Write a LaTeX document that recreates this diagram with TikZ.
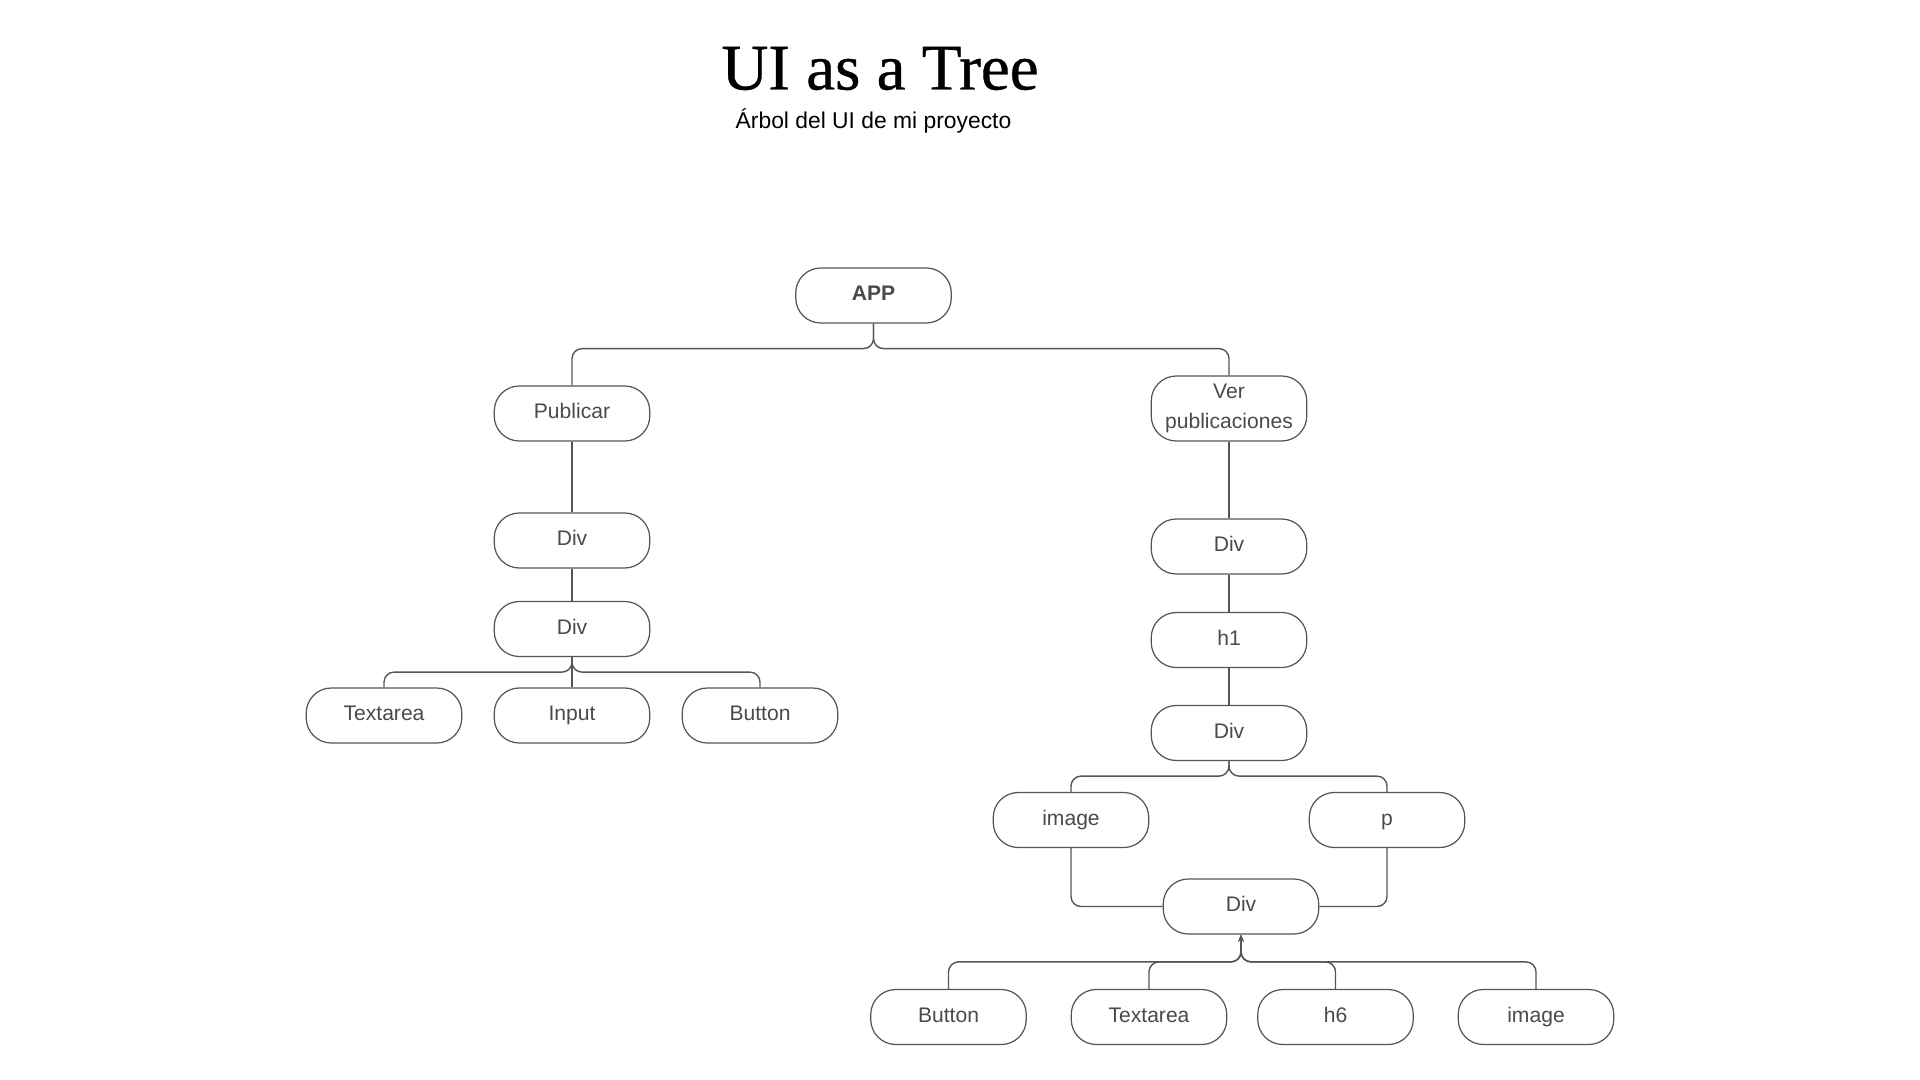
\documentclass[tikz,border=0pt]{standalone}
\usepackage{fontspec}
\setmainfont{Liberation Sans}
\newfontfamily\titlefont[FakeBold=0.6]{Liberation Serif}
\usetikzlibrary{arrows.meta}
\definecolor{ink}{HTML}{4A4A4A}
\definecolor{wire}{HTML}{555555}

\begin{document}
\begin{tikzpicture}[
  box/.style={draw=wire, line width=0.7pt, rounded corners=0.5cm, minimum width=3.11cm, minimum height=1.1cm, align=center, text=ink, text height=8.6pt, text depth=2.5pt, font=\fontsize{12}{17}\selectfont},
  link/.style={draw=wire, line width=0.8pt, rounded corners=0.2cm},
  uplink/.style={link, -{Stealth[length=4pt,width=3pt]}}
]
\useasboundingbox (0,0) rectangle (38.4,-21.6);
\node[anchor=base, font=\titlefont\fontsize{37}{40}\selectfont] (title) at (17.60,-1.79) {UI as a Tree};
\node[anchor=base, font=\fontsize{13}{15}\selectfont] (subtitle) at (17.47,-2.57) {Árbol del UI de mi proyecto};

\node[box, font=\bfseries\fontsize{12}{17}\selectfont] (app) at (17.47,-5.91) {APP};
\node[box] (pub) at (11.44,-8.27) {Publicar};
\node[box, minimum height=1.3cm, text height=25.6pt] (ver) at (24.58,-8.17) {Ver\\publicaciones};
\node[box] (div1) at (11.44,-10.81) {Div};
\node[box] (div2) at (11.44,-12.58) {Div};
\node[box] (ta1) at (7.68,-14.31) {Textarea};
\node[box] (inp) at (11.44,-14.31) {Input};
\node[box] (btn1) at (15.20,-14.31) {Button};
\node[box] (div3) at (24.58,-10.93) {Div};
\node[box] (h1) at (24.58,-12.80) {h1};
\node[box] (div4) at (24.58,-14.66) {Div};
\node[box] (img1) at (21.42,-16.40) {image};
\node[box] (par) at (27.74,-16.40) {p};
\node[box] (div5) at (24.82,-18.13) {Div};
\node[box] (btn2) at (18.97,-20.34) {Button};
\node[box] (ta2) at (22.98,-20.34) {Textarea};
\node[box] (h6) at (26.71,-20.34) {h6};
\node[box] (img2) at (30.72,-20.34) {image};

\draw[link] (app.south) -- ++(0,-0.5) -| (pub.north);
\draw[link] (app.south) -- ++(0,-0.5) -| (ver.north);
\draw[link] (pub) -- (div1);
\draw[link] (div1) -- (div2);
\draw[link] (div2.south) -- ++(0,-0.3) -| (ta1.north);
\draw[link] (div2.south) -- (inp.north);
\draw[link] (div2.south) -- ++(0,-0.3) -| (btn1.north);
\draw[link] (ver) -- (div3);
\draw[link] (div3) -- (h1);
\draw[link] (h1) -- (div4);
\draw[link] (div4.south) -- ++(0,-0.3) -| (img1.north);
\draw[link] (div4.south) -- ++(0,-0.3) -| (par.north);
\draw[link] (img1.south) |- (div5.west);
\draw[link] (par.south) |- (div5.east);
\draw[uplink] (btn2.north) -- ++(0,0.54) -| (div5.south);
\draw[uplink] (ta2.north) -- ++(0,0.54) -| (div5.south);
\draw[uplink] (h6.north) -- ++(0,0.54) -| (div5.south);
\draw[uplink] (img2.north) -- ++(0,0.54) -| (div5.south);
\end{tikzpicture}
\end{document}
